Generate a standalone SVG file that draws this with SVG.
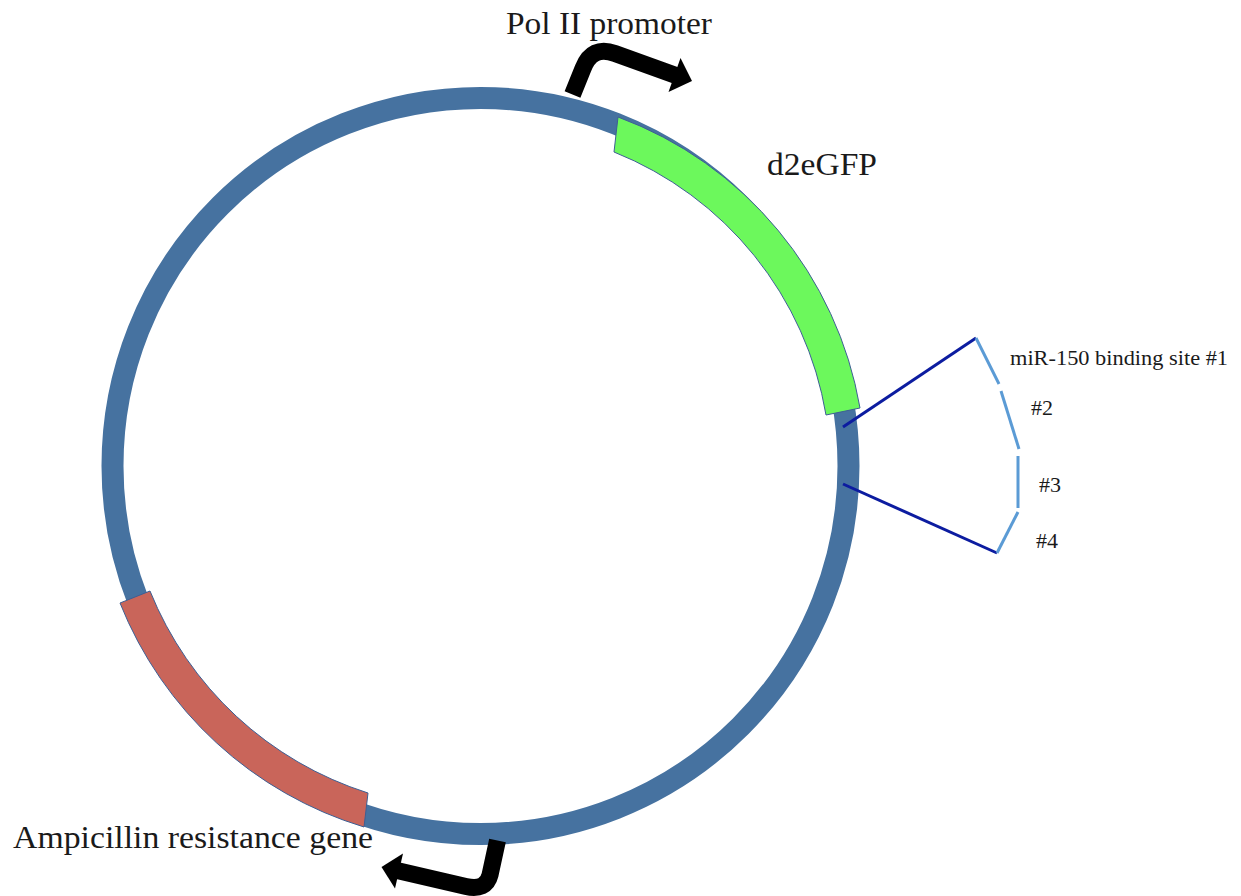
<svg xmlns="http://www.w3.org/2000/svg" width="1241" height="896" viewBox="0 0 1241 896">
  <style>
    .lbl { font-family: "Liberation Serif", "Times New Roman", serif; fill: #1a1a1a; }
    .big { font-size: 31px; }
    .small { font-size: 21px; }
    .seg { stroke: #3d5f94; stroke-width: 1; }
    .arrow { fill: none; stroke: #000; stroke-width: 17; stroke-linejoin: round; }
    .dark { stroke: #0c1ca0; stroke-width: 3; fill: none; }
    .light { stroke: #5b9bd5; stroke-width: 3; fill: none; }
  </style>
  <rect width="1241" height="896" fill="#ffffff"/>

  <g id="plasmid">
    <circle cx="480.5" cy="466" r="368" fill="none" stroke="#4672a0" stroke-width="22"/>
  </g>

  <g id="d2eGFP">
    <path class="seg" fill="#6cf85c" d="M 618 117 A 379 379 0 0 1 860 408 L 826 415 A 345 345 0 0 0 614 152 Z"/>
    <text class="lbl big" x="767" y="175" textLength="110" lengthAdjust="spacingAndGlyphs">d2eGFP</text>
  </g>

  <g id="ampR">
    <path class="seg" fill="#c9655a" d="M 120 603 A 382 382 0 0 0 364 827 L 368 793 A 349 349 0 0 1 150 591 Z"/>
    <text class="lbl big" x="13" y="848" textLength="360" lengthAdjust="spacingAndGlyphs">Ampicillin resistance gene</text>
  </g>

  <g id="polII">
    <path class="arrow" d="M 572.5 94.5 L 583 68.5 Q 592 45 615 53.5 L 676 75.5"/>
    <polygon points="692,81 680.5,58 668.5,92" fill="#000"/>
    <text class="lbl big" x="506" y="34" textLength="206" lengthAdjust="spacingAndGlyphs">Pol II promoter</text>
  </g>

  <g id="ampPromoter">
    <path class="arrow" d="M 497.5 840.5 L 490 875 Q 486 891 466 886.5 L 397 870.5"/>
    <polygon points="381.5,867 403,853.5 395,888.5" fill="#000"/>
  </g>

  <g id="connectors">
    <line class="dark" x1="843" y1="427" x2="976" y2="338"/>
    <line class="dark" x1="843" y1="484" x2="997" y2="553"/>
  </g>

  <g id="bindingSites">
    <line class="light" x1="976" y1="338" x2="999" y2="384"/>
    <line class="light" x1="1001" y1="391" x2="1019" y2="449"/>
    <line class="light" x1="1018" y1="456" x2="1018" y2="508"/>
    <line class="light" x1="1018" y1="512" x2="997" y2="553"/>
    <text class="lbl small" x="1010" y="365" textLength="218" lengthAdjust="spacingAndGlyphs">miR-150 binding site #1</text>
    <text class="lbl small" x="1031" y="415" textLength="22" lengthAdjust="spacingAndGlyphs">#2</text>
    <text class="lbl small" x="1039" y="492" textLength="22" lengthAdjust="spacingAndGlyphs">#3</text>
    <text class="lbl small" x="1036" y="548" textLength="22" lengthAdjust="spacingAndGlyphs">#4</text>
  </g>
</svg>
